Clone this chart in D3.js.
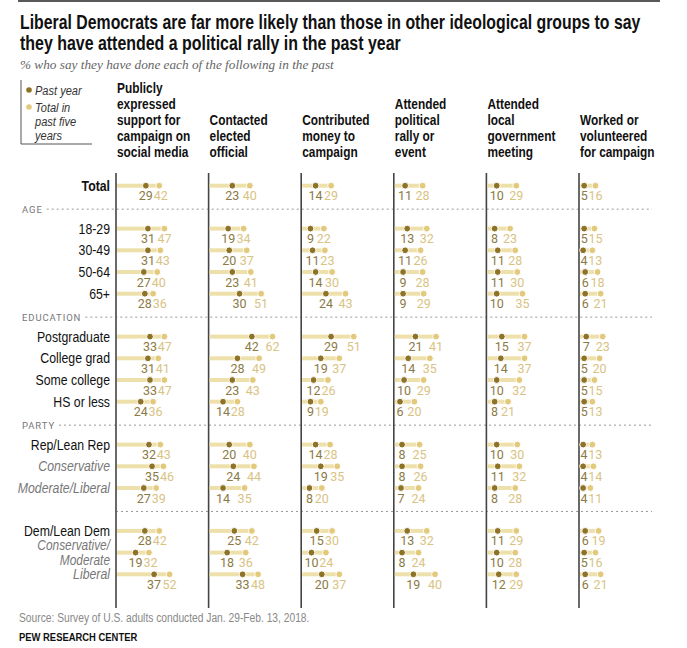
<!DOCTYPE html>
<html>
<head>
<meta charset="utf-8">
<script src="https://cdn.jsdelivr.net/npm/d3@7"></script>
<style>
  body { margin: 0; background: #fff; }
  svg { display: block; }
  .narrow { font-family: "Liberation Sans", Arial, sans-serif; }
  .num { font-family: Roboto, "Liberation Sans", sans-serif; }
</style>
</head>
<body>
<div id="chart"></div>
<script>
"use strict";

// ---- data ----
const titleLines = [
    "Liberal Democrats are far more likely than those in other ideological groups to say",
    "they have attended a political rally in the past year"
];
const subtitle = "% who say they have done each of the following in the past";

const activityHeaders = [
    ["Publicly", "expressed", "support for", "campaign on", "social media"],
    ["Contacted", "elected", "official"],
    ["Contributed", "money to", "campaign"],
    ["Attended", "political", "rally or", "event"],
    ["Attended", "local", "government", "meeting"],
    ["Worked or", "volunteered", "for campaign"]
];

const rowLabels = ["Total", "18-29", "30-49", "50-64", "65+",
    "Postgraduate", "College grad", "Some college", "HS or less",
    "Rep/Lean Rep", "Conservative", "Moderate/Liberal",
    "Dem/Lean Dem", "Conservative/|Moderate", "Liberal"];
const rowGroups = [0, 1, 1, 1, 1, 2, 2, 2, 2, 3, 3, 3, 4, 4, 4];
const rowKinds = ["total", "main", "main", "main", "main", "main", "main", "main", "main",
    "main", "sub", "sub", "main", "sub", "sub"];
const sectionLabels = ["AGE", "EDUCATION", "PARTY", ""];

const socialMediaPast = [29, 31, 31, 27, 28, 33, 31, 33, 24, 32, 35, 27, 28, 19, 37];
const socialMediaFive = [42, 47, 43, 40, 36, 47, 41, 47, 36, 43, 46, 39, 42, 32, 52];
const contactedPast = [23, 19, 20, 23, 30, 42, 28, 23, 14, 20, 24, 14, 25, 18, 33];
const contactedFive = [40, 34, 37, 41, 51, 62, 49, 43, 28, 40, 44, 35, 42, 36, 48];
const contributedPast = [14, 9, 11, 14, 24, 29, 19, 12, 9, 14, 19, 8, 15, 10, 20];
const contributedFive = [29, 22, 23, 30, 43, 51, 37, 26, 19, 28, 35, 20, 30, 24, 37];
const rallyPast = [11, 13, 11, 9, 9, 21, 14, 10, 6, 8, 8, 7, 13, 8, 19];
const rallyFive = [28, 32, 26, 28, 29, 41, 35, 29, 20, 25, 26, 24, 32, 24, 40];
const localGovPast = [10, 8, 11, 11, 10, 15, 14, 10, 8, 10, 11, 8, 11, 10, 12];
const localGovFive = [29, 23, 28, 30, 35, 37, 37, 32, 21, 30, 32, 28, 29, 28, 29];
const workedPast = [5, 5, 4, 6, 6, 7, 5, 5, 5, 4, 4, 4, 6, 5, 6];
const workedFive = [16, 15, 13, 18, 21, 23, 20, 15, 13, 13, 14, 11, 19, 16, 21];

const sourceNote = "Source: Survey of U.S. adults conducted Jan. 29-Feb. 13, 2018.";
const credit = "PEW RESEARCH CENTER";

// ---- colours ----
const DARK = "#8e7327", LIGHT = "#e2c97c", BAR = "#eee0aa";
const DARK_TXT = "#8b7a45", LIGHT_TXT = "#d9c383";
const SQUEEZE = 0.82; // no narrow font installed, so squeeze Liberation Sans

const W = 687, H = 648;
const svg = d3.select("#chart").append("svg")
    .attr("width", W)
    .attr("height", H);

// narrow text placed with a horizontal squeeze
function narrow(parent, x, y, str, sx) {
    return parent.append("text")
        .attr("class", "narrow")
        .attr("transform", `translate(${x},${y}) scale(${sx || SQUEEZE},1)`)
        .text(str);
}

// table built from the arrays
const pastSets = [socialMediaPast, contactedPast, contributedPast, rallyPast, localGovPast, workedPast];
const fiveSets = [socialMediaFive, contactedFive, contributedFive, rallyFive, localGovFive, workedFive];
const cells = [];
pastSets.forEach((past, c) => {
    past.forEach((p, r) => cells.push({col: c, row: r, past: p, five: fiveSets[c][r]}));
});

// scales
const colX = d3.scaleLinear().domain([0, 5]).range([116, 579]);
const valX = d3.scaleLinear().domain([0, 100]).range([0, 103]);
const slot = (r) => r + rowGroups[r] * 0.977;
const rowY = d3.scaleLinear().domain([0, 1]).range([185.7, 207.4]);
const yOf = (r) => rowY(slot(r));

// ---- header ----
svg.append("line")
    .attr("x1", 18).attr("x2", 660)
    .attr("y1", 1).attr("y2", 1)
    .attr("stroke", "#222").attr("stroke-width", 1.5);

// title squeezed to the width it has in the picture
const titleWidths = [621, 381];
titleLines.forEach((t, i) => {
    const txt = narrow(svg, 20, 29 + i * 21, t, 1)
        .attr("font-size", 19.5).attr("font-weight", "bold").attr("fill", "#111");
    const natural = txt.node().getComputedTextLength();
    txt.attr("transform", `translate(20,${29 + i * 21}) scale(${titleWidths[i] / natural},1)`);
});

const sub = svg.append("text")
    .attr("font-family", "'Liberation Serif', 'DejaVu Serif', serif")
    .attr("font-style", "italic").attr("font-size", 13.5).attr("fill", "#666")
    .text(subtitle);
sub.attr("transform", `translate(20,69) scale(${314 / sub.node().getComputedTextLength()},1)`);

// legend
const lg = svg.append("g");
lg.append("path")
    .attr("d", "M21,80 V144 H92")
    .attr("fill", "none").attr("stroke", "#555").attr("stroke-width", 1);
lg.append("circle").attr("cx", 29).attr("cy", 90).attr("r", 2.8).attr("fill", DARK);
lg.append("circle").attr("cx", 29).attr("cy", 107).attr("r", 2.8).attr("fill", LIGHT);
const legendText = [["Past year", 90], ["Total in", 107], ["past five", 121], ["years", 135]];
legendText.forEach(d => {
    narrow(lg, 35, d[1] + 4.5, d[0])
        .attr("font-size", 13.5).attr("font-style", "italic").attr("fill", "#333");
});

// column headers, bottom aligned
activityHeaders.forEach((lines, c) => {
    const n = lines.length;
    lines.forEach((line, i) => {
        narrow(svg, colX(c) + 1, 157 - (n - 1 - i) * 16, line)
            .attr("font-size", 14.5).attr("font-weight", "bold").attr("fill", "#111");
    });
});

// ---- section dividers ----
const groupStarts = [1, 5, 9, 12];
groupStarts.forEach((r, i) => {
    const y = (yOf(r - 1) + yOf(r)) / 2 + 2;
    let startX = colX(0);
    if (sectionLabels[i]) {
        const t = svg.append("text")
            .attr("class", "num")
            .attr("x", 22).attr("y", y + 3.5)
            .attr("font-size", 9.5).attr("letter-spacing", 0.9).attr("fill", "#777")
            .text(sectionLabels[i]);
        startX = 22 + t.node().getComputedTextLength() + 4;
    }
    svg.append("line")
        .attr("x1", startX).attr("x2", 652)
        .attr("y1", y).attr("y2", y)
        .attr("stroke", "#999").attr("stroke-width", 1)
        .attr("stroke-dasharray", "2,3");
});

// ---- row labels ----
rowLabels.forEach((label, r) => {
    const kind = rowKinds[r];
    const parts = label.split("|");
    const y = yOf(r);
    parts.forEach((p, i) => {
        narrow(svg, 110, y + 5 + (i - (parts.length - 1) / 2) * 14.5, p)
            .attr("text-anchor", "end")
            .attr("font-size", parts.length > 1 ? 14.5 : 15)
            .attr("fill", kind === "sub" ? "#777" : "#111")
            .attr("font-weight", kind === "total" ? "bold" : "normal")
            .attr("font-style", kind === "sub" ? "italic" : "normal");
    });
});

// ---- axes lines ----
svg.append("g").selectAll("line").data(d3.range(6)).join("line")
    .attr("x1", d => colX(d)).attr("x2", d => colX(d))
    .attr("y1", 173).attr("y2", 608)
    .attr("stroke", "#444").attr("stroke-width", 1.6);

// ---- marks ----
const marks = svg.append("g");
marks.selectAll("rect.bar").data(cells).join("rect")
    .attr("class", "bar")
    .attr("x", d => colX(d.col) + 1)
    .attr("y", d => yOf(d.row) - 2)
    .attr("width", d => valX(d.five) - 1)
    .attr("height", 4)
    .attr("fill", BAR);
marks.selectAll("circle.five").data(cells).join("circle")
    .attr("class", "five")
    .attr("cx", d => colX(d.col) + valX(d.five))
    .attr("cy", d => yOf(d.row))
    .attr("r", 3.4)
    .attr("fill", LIGHT).attr("stroke", "#fff").attr("stroke-width", 1);
marks.selectAll("circle.past").data(cells).join("circle")
    .attr("class", "past")
    .attr("cx", d => colX(d.col) + valX(d.past))
    .attr("cy", d => yOf(d.row))
    .attr("r", 3.4)
    .attr("fill", DARK).attr("stroke", "#fff").attr("stroke-width", 1);

// value labels: centred under the dots, pushed apart when they touch
const pastLabels = marks.selectAll("text.past").data(cells).join("text")
    .attr("class", "past num")
    .attr("y", d => yOf(d.row) + 14.5)
    .attr("font-size", 12.5).attr("fill", DARK_TXT)
    .text(d => d.past);
const fiveLabels = marks.selectAll("text.five").data(cells).join("text")
    .attr("class", "five num")
    .attr("y", d => yOf(d.row) + 14.5)
    .attr("font-size", 12.5).attr("fill", LIGHT_TXT)
    .text(d => d.five);

pastLabels.each(function (d) {
    const w = this.getComputedTextLength();
    const left = Math.max(colX(d.col) + 1.5, colX(d.col) + valX(d.past) - w / 2);
    d.pastRight = left + w;
    d3.select(this).attr("x", left);
});
fiveLabels.each(function (d) {
    const w = this.getComputedTextLength();
    const left = Math.max(d.pastRight + 0.8, colX(d.col) + valX(d.five) - w / 2);
    d3.select(this).attr("x", left);
});

// ---- footer ----
narrow(svg, 19, 622, sourceNote)
    .attr("font-size", 12.5).attr("fill", "#888");
narrow(svg, 19, 641, credit)
    .attr("font-size", 11.5).attr("font-weight", "bold").attr("fill", "#111");
</script>
</body>
</html>
